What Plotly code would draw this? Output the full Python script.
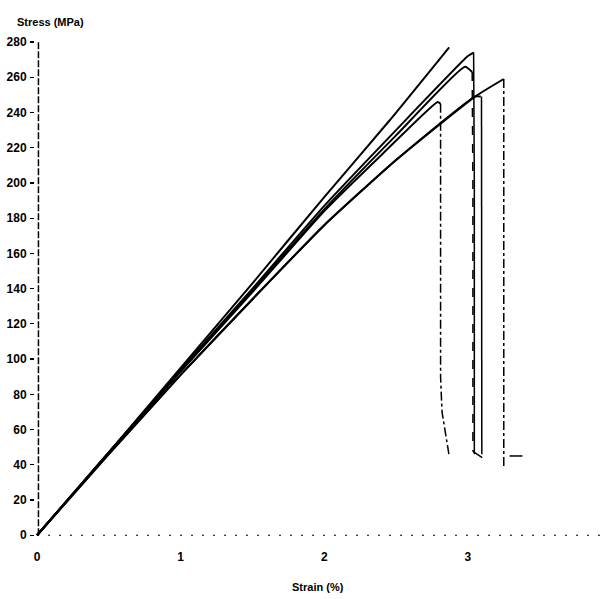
import plotly.graph_objects as go

# ---- data (strain %, stress MPa) ----
strain_A = [0, 0.5, 1.0, 1.5, 2.0, 2.45, 2.87]
stress_A = [0, 47, 95, 143, 192, 235, 277]

strain_B = [0, 0.5, 1.0, 1.5, 2.0, 2.5, 3.0, 3.04]
stress_B = [0, 47, 94, 140, 187, 230, 272, 274]
drop_strain_B = [3.04, 3.045, 3.045, 3.1]
drop_stress_B = [274, 200, 47, 44]

strain_C = [0, 0.5, 1.0, 1.5, 2.0, 2.5, 2.98, 3.03]
stress_C = [0, 47, 93, 139, 185, 227, 266, 263]
drop_strain_C = [3.03, 3.035, 3.035, 3.05]
drop_stress_C = [263, 200, 48, 46]

strain_D = [0, 0.5, 1.0, 1.5, 2.0, 2.4, 2.79, 2.81]
stress_D = [0, 47, 93, 138, 184, 216, 246, 245]
drop_strain_D = [2.81, 2.81, 2.82, 2.84, 2.87]
drop_stress_D = [245, 90, 70, 60, 45]

strain_E1 = [0, 0.5, 1.0, 1.5, 2.0, 2.5, 3.05, 3.09]
stress_E1 = [0, 46, 91, 134, 176, 213, 249, 249]
drop_strain_E1 = [3.095, 3.097, 3.097]
drop_stress_E1 = [249, 150, 46]

strain_E2 = [0, 0.5, 1.0, 1.5, 2.0, 2.5, 3.05, 3.25]
stress_E2 = [0, 46, 91, 134, 176, 213, 249, 259]
drop_strain_E2 = [3.25, 3.25, 3.25]
drop_stress_E2 = [259, 150, 38]
tail_strain_E2 = [3.29, 3.38]
tail_stress_E2 = [45, 45]

x_ticks = [0, 1, 2, 3]
y_ticks = list(range(0, 281, 20))

fig = go.Figure()

rises = [(strain_A, stress_A), (strain_B, stress_B), (strain_C, stress_C),
         (strain_D, stress_D), (strain_E1, stress_E1), (strain_E2, stress_E2)]
for sx, sy in rises:
    fig.add_trace(go.Scatter(x=sx, y=sy, mode="lines",
                             line=dict(color="black", width=2, shape="spline", smoothing=0.5),
                             showlegend=False))

drops = [(drop_strain_B, drop_stress_B, "solid"),
         (drop_strain_C, drop_stress_C, "dash"),
         (drop_strain_D, drop_stress_D, "dashdot"),
         (drop_strain_E1, drop_stress_E1, "solid"),
         (drop_strain_E2, drop_stress_E2, "dashdot"),
         (tail_strain_E2, tail_stress_E2, "solid")]
for sx, sy, d in drops:
    fig.add_trace(go.Scatter(x=sx, y=sy, mode="lines",
                             line=dict(color="black", width=1.5, dash=d), showlegend=False))

font = dict(family="Liberation Sans", size=12, color="black", weight="bold")

fig.update_layout(
    width=606, height=599,
    margin=dict(l=35, r=6, t=42, b=62),
    paper_bgcolor="white", plot_bgcolor="white",
    font=font,
    hovermode=False,
    xaxis=dict(range=[-0.014, 3.92], tickvals=x_ticks, ticktext=[str(v) for v in x_ticks],
               showgrid=False, zeroline=False, showline=False, ticks="",
               ticklabelstandoff=11, tickfont=font, automargin=False),
    yaxis=dict(range=[-1, 280], tickvals=y_ticks, ticktext=[str(v) for v in y_ticks],
               showgrid=False, zeroline=False, showline=False, ticks="outside",
               ticklen=4, tickwidth=1.2, tickcolor="black", tickfont=font,
               ticklabelstandoff=1, automargin=False),
    shapes=[
        dict(type="line", xref="x", yref="y", x0=0.01, x1=0.01, y0=0, y1=280,
             line=dict(color="black", width=1.5, dash="7px,2px")),
        dict(type="line", xref="x", yref="y", x0=0, x1=3.92, y0=0, y1=0,
             line=dict(color="black", width=1.2, dash="2px,9px")),
    ],
    annotations=[
        dict(text="Stress (MPa)", xref="paper", yref="paper", x=-0.035, y=1.04,
             xanchor="left", yanchor="middle", showarrow=False,
             font=dict(family="Liberation Sans", size=11, color="black", weight="bold")),
        dict(text="Strain (%)", xref="paper", yref="paper", x=0.5, y=-0.1,
             xanchor="center", yanchor="middle", showarrow=False,
             font=dict(family="Liberation Sans", size=11, color="black", weight="bold")),
    ],
)

fig.write_html("out.html", config={"displayModeBar": False, "staticPlot": True},
               post_script="document.body.style.margin='0';document.body.style.overflow='hidden';")
